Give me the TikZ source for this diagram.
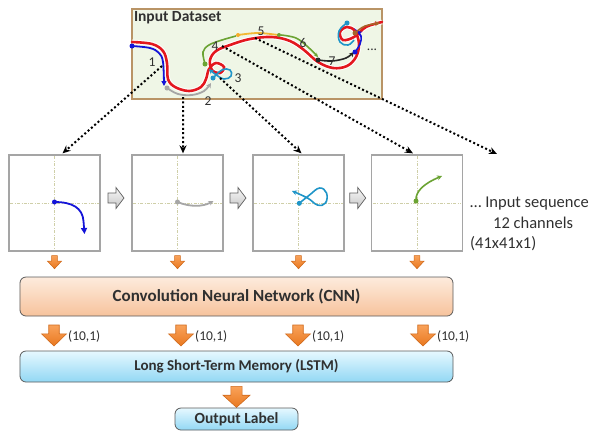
\documentclass[tikz,border=0pt]{standalone}
\usepackage{fontspec}
\setmainfont{Carlito}
\setsansfont{Carlito}
\usetikzlibrary{arrows.meta,positioning,calc}
\definecolor{darktext}{HTML}{303030}
\definecolor{traj}{HTML}{E3171E}
\definecolor{segone}{HTML}{1414D8}
\definecolor{segtwo}{HTML}{A6A6A6}
\definecolor{segthree}{HTML}{1F95C8}
\definecolor{seggreen}{HTML}{6BA333}
\definecolor{segfive}{HTML}{F2B833}
\definecolor{segseven}{HTML}{262626}
\definecolor{segbrown}{HTML}{A8642A}
\definecolor{datafill}{HTML}{EFF6E6}
\definecolor{dataedge}{HTML}{B99466}
\definecolor{frameedge}{HTML}{A5A5A5}
\definecolor{crossline}{HTML}{CFCFA8}
\definecolor{orangeA}{HTML}{F9A25A}
\definecolor{orangeB}{HTML}{E9781F}
\definecolor{orangeedge}{HTML}{D06A1C}
\definecolor{cnnA}{HTML}{FDEBDD}
\definecolor{cnnB}{HTML}{F7C39C}
\definecolor{lstmA}{HTML}{E6F8FF}
\definecolor{lstmB}{HTML}{92D8F4}
\definecolor{boxedge}{HTML}{5A5A5A}

% orange block arrow pointing down: top point, half width, length
\newcommand{\downarr}[3]{%
  \begin{scope}[shift={(#1)}]
    \draw[orangeedge, line width=0.6bp, top color=orangeA, bottom color=orangeB]
      (-0.42*#2,0) -- (0.42*#2,0) -- (0.42*#2,0.42*#3) -- (#2,0.42*#3)
      -- (0,#3) -- (-#2,0.42*#3) -- (-0.42*#2,0.42*#3) -- cycle;
  \end{scope}}
% grey block arrow between two frames
\newcommand{\nextarr}[1]{%
  \begin{scope}[shift={(#1)}]
    \draw[gray!75!black, line width=0.7bp, top color=gray!5, bottom color=gray!45]
      (-8,-5) -- (0,-5) -- (0,-10.5) -- (8,0) -- (0,10.5) -- (0,5) -- (-8,5) -- cycle;
  \end{scope}}

\begin{document}
\begin{tikzpicture}[x=1bp,y=-1bp,
  frame/.style={draw=frameedge, line width=1.3bp, fill=white,
    minimum width=91bp, minimum height=96bp, inner sep=0pt},
  hair/.style={crossline, line width=0.7bp,
    dash pattern=on 3bp off 1.5bp on 0.7bp off 1.5bp},
  link/.style={line width=2bp, dash pattern=on 2bp off 2.4bp,
    -{Stealth[length=8bp,width=7bp]}},
  netbox/.style={draw=boxedge, line width=0.8bp, rounded corners=6bp,
    inner sep=0pt, text=darktext},
  num/.style={inner sep=1bp, text=darktext, font=\fontsize{13.5bp}{15bp}\selectfont},
  dims/.style={inner sep=1bp, text=darktext, font=\fontsize{13.5bp}{15bp}\selectfont},
  seq/.style={anchor=base west, inner sep=0pt, text=darktext,
    font=\fontsize{16.5bp}{19bp}\selectfont},
  dot/.style={fill, circle, inner sep=0pt, minimum size=#1},
  dot/.default=5bp]
\useasboundingbox (0,0) rectangle (592,432);

% dataset panel
\node[draw=dataedge, line width=1.4bp, fill=datafill, minimum width=250bp,
  minimum height=90bp, inner sep=0pt] (data) at (257,54) {};
\node[anchor=north west, inner sep=2.5bp, text=darktext,
  font=\fontsize{15.5bp}{17bp}\selectfont\bfseries] (title) at (data.north west) {Input Dataset};

% whole trajectory
\draw[traj, line width=2.6bp, line cap=round, preaction={draw=white, line width=4.6bp}]
  plot[smooth, tension=0.6] coordinates {(132,42) (152,44) (163,51) (167,63) (168,79)
  (175,87) (189,91) (201,87) (206,79) (209,69) (216,63) (224,67) (220,73) (212,70)
  (210,60) (216,51) (230,45) (250,39) (272,37) (290,41) (304,50) (318,62) (333,68)
  (347,66) (356,57) (359,44) (355,31) (347,27) (340,32) (343,40) (354,37) (366,27) (382,22)};

% segments 1..7
\draw[segone, line width=1.8bp, -{Triangle[length=5bp,width=5bp]}]
  plot[smooth, tension=0.6] coordinates {(132,46) (150,48) (159,53) (163,62) (164,86)};
\node[dot, segone] (a1) at (132,46) {};
\draw[segtwo, line width=1.8bp, -{Stealth[length=5bp,width=5bp]}]
  plot[smooth, tension=0.6] coordinates {(167,88) (178,94) (192,95) (204,91) (211,83)};
\node[dot, segtwo] (a2) at (167,88) {};
\draw[segthree, line width=1.6bp, -{Stealth[length=5bp,width=5bp]}]
  plot[smooth, tension=0.7] coordinates {(213,78) (222,70) (230,70) (231,76) (224,79) (215,74) (209,69)};
\node[dot, segthree] (a3) at (213,78) {};
\draw[seggreen, line width=1.6bp]
  plot[smooth, tension=0.6] coordinates {(205,64) (203,52) (209,45) (222,40) (236,36)};
\node[dot, seggreen] (a4) at (205,64) {};
\draw[segfive, line width=1.8bp]
  plot[smooth, tension=0.6] coordinates {(238,35) (258,33) (278,35)};
\node[dot=4bp, segfive!80!orange] (a5) at (238,35) {};
\node[dot=4bp, seggreen] (b5) at (279,35) {};
\draw[seggreen, line width=1.6bp, -{Stealth[length=4bp,width=4bp]}]
  plot[smooth, tension=0.6] coordinates {(281,35) (296,38) (308,47) (318,57)};
\node[dot, segseven] (a7) at (318,60) {};
\draw[segseven, line width=1.6bp, -{Stealth[length=5bp,width=5bp]}]
  plot[smooth, tension=0.6] coordinates {(318,60) (332,61) (346,58) (354,52)};
\draw[segthree, line width=1.6bp]
  plot[smooth, tension=0.7] coordinates {(347,23) (339,31) (340,42) (348,45) (354,40)};
\node[dot, segthree] (a8) at (347,23) {};
\draw[segone, line width=1.6bp, -{Stealth[length=5bp,width=5bp]}]
  plot[smooth, tension=0.7] coordinates {(355,52) (360,44) (361,36) (357,31)};
\node[dot, segone] (a9) at (355,52) {};
\draw[segbrown, line width=1.6bp, -{Stealth[length=5bp,width=5bp]}]
  plot[smooth, tension=0.6] coordinates {(355,33) (365,26) (380,23)};
\node[dot, segbrown] (a10) at (355,33) {};

\foreach \n/\x/\y in {1/152/62, 2/208/101, 3/238/78, 4/215/46, 5/261/31, 6/303/43, 7/332/61}
  \node[num] (n\n) at (\x,\y) {\n};
\node[num] (more) at (372,50) {...};

% input frames
\foreach \n/\x in {1/54.5,2/177.5,3/298.5,4/417} {
  \node[frame] (f\n) at (\x,203) {};
  \draw[hair] ($(f\n.north)+(0,2)$) -- ($(f\n.south)+(0,-2)$);
  \draw[hair] ($(f\n.west)+(2,0)$) -- ($(f\n.east)+(-2,0)$);
}
\foreach \a/\b in {1/2,2/3,3/4} {
  \nextarr{$(f\a.east)!0.5!(f\b.west)+(0,-5)$}
}

% strokes inside frames
\begin{scope}[shift={(f1.center)}]
  \draw[segone, line width=1.8bp, -{Triangle[length=6bp,width=6bp]}]
    (0,-1) .. controls (18,-1) and (28,5) .. (29,18) -- (30,31);
  \node[dot, segone] (c1) at (0,-1) {};
\end{scope}
\begin{scope}[shift={(f2.center)}]
  \draw[segtwo, line width=1.8bp, -{Stealth[length=5bp,width=5bp]}]
    (0,-1) .. controls (12,4) and (25,4) .. (36,-2);
  \node[dot, segtwo] (c2) at (0,-1) {};
\end{scope}
\begin{scope}[shift={(f3.center)}]
  \draw[segthree, line width=1.6bp, -{Stealth[length=5bp,width=5bp]}]
    plot[smooth, tension=0.7] coordinates {(0.8,0.3) (11,-8) (21,-15) (28,-10) (27,0) (19,2) (9,-5) (-6.5,-12)};
  \node[dot, segthree] (c3) at (0.8,0.3) {};
\end{scope}
\begin{scope}[shift={(f4.center)}]
  \draw[seggreen, line width=1.6bp, -{Stealth[length=5bp,width=5bp]}]
    (-1,-2) .. controls (-2,-12) and (8,-20) .. (25,-27);
  \node[dot, seggreen] (c4) at (-1,-2) {};
\end{scope}

% dotted links from the dataset to the frames
\coordinate (s1) at (162,66);
\coordinate (s2) at (183,97);
\coordinate (s3) at (220,78);
\coordinate (s4) at (222,46);
\coordinate (s5) at (255,38);
\coordinate (t5) at (497,154);
\draw[link] (s1) -- ($(f1.north)+(8,-1)$);
\draw[link] (s2) -- ($(f2.north)+(5.5,-1)$);
\draw[link] (s3) -- ($(f3.north)+(3,-1)$);
\draw[link] (s4) -- ($(f4.north)+(-4,-1)$);
\draw[link] (s5) -- (t5);

\node[seq] (seq1) at (470,207) {\dots\ Input sequence};
\node[seq] (seq2) at (493,228) {12 channels};
\node[seq] (seq3) at (470,248) {(41x41x1)};

\foreach \n in {1,...,4} {
  \downarr{$(f\n.south)+(0,4)$}{7}{13}
}

% network blocks
\node[netbox, top color=cnnA, bottom color=cnnB, minimum width=433bp, minimum height=39bp,
  font=\fontsize{17bp}{19bp}\selectfont\bfseries] (cnn) at (236.5,296.5)
  {Convolution Neural Network (CNN)};
\foreach \x [count=\n] in {54,181,298,423} {
  \downarr{\x,325}{12.5}{21}
  \node[dims, anchor=west] (d\n) at (\x+13,336) {(10,1)};
}
\node[netbox, top color=lstmA, bottom color=lstmB, minimum width=433bp, minimum height=31bp,
  font=\fontsize{15bp}{17bp}\selectfont\bfseries] (lstm) at (236.5,366.5)
  {Long Short-Term Memory (LSTM)};
\downarr{$(lstm.south)+(0,4)$}{13.5}{21}
\node[netbox, top color=lstmA, bottom color=lstmB, minimum width=123bp, minimum height=22bp,
  font=\fontsize{15.5bp}{17bp}\selectfont\bfseries] (out) at (236.5,419) {Output Label};
\end{tikzpicture}
\end{document}
